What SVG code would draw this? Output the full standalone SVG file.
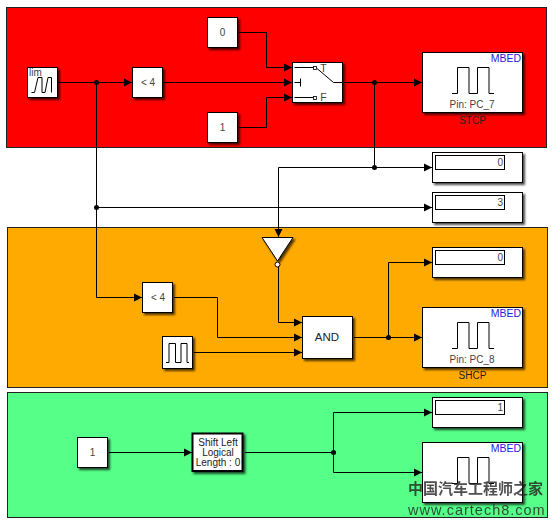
<svg xmlns="http://www.w3.org/2000/svg" width="554" height="526" viewBox="0 0 554 526">
<defs>
<filter id="sh" x="-20%" y="-20%" width="150%" height="150%"><feDropShadow dx="2" dy="2" stdDeviation="1.2" flood-color="#000" flood-opacity="0.7"/></filter>
<marker id="a" markerUnits="userSpaceOnUse" markerWidth="9" markerHeight="10" refX="8" refY="5" orient="auto"><path d="M0,1 L8,5 L0,9 Z" fill="#000"/></marker>
</defs>
<style>
.area{stroke:#222;stroke-width:1}
.b{fill:#fff;stroke:#000;stroke-width:1;filter:url(#sh)}
.w{fill:none;stroke:#000;stroke-width:1}
.ar{fill:none;stroke:#000;stroke-width:1;marker-end:url(#a)}
.i{fill:none;stroke:#000;stroke-width:1}
.d{fill:#000}
text{font-family:"Liberation Sans",Arial,sans-serif;font-size:10px;fill:#444;text-anchor:middle}
.dk{fill:#222}
.m{fill:#2222dd;font-size:10.5px;text-anchor:end}
.v{text-anchor:end}
.wm{fill:#222;opacity:.8;text-anchor:start}
</style>
<rect class="area" x="6.5" y="7.5" width="540" height="140" fill="#ff0000"/>
<rect class="area" x="7.5" y="227.5" width="540" height="160" fill="#ffaa00"/>
<rect class="area" x="7.5" y="392.5" width="540" height="125" fill="#55ff88"/>
<g id="connectors">
<path class="ar" d="M58.500,82.500H132"/>
<path class="ar" d="M163.500,82.500H292"/>
<path class="ar" d="M239,32.500H266.500V67.500H292"/>
<path class="ar" d="M239,127.500H266.500V97.500H292"/>
<path class="ar" d="M343.500,82.500H422"/>
<path class="w" d="M374.500,82.500V167.500"/>
<path class="ar" d="M278.500,167.500H432"/>
<path class="ar" d="M278.500,167.500V237"/>
<path class="ar" d="M96.500,207.500H432"/>
<path class="ar" d="M96.500,82.500V297.500H142"/>
<path class="ar" d="M278.500,267V322.500H302"/>
<path class="ar" d="M174,297.500H217.500V337.500H302"/>
<path class="ar" d="M194,352.500H302"/>
<path class="ar" d="M354,337.500H422"/>
<path class="ar" d="M388.500,337.500V262.500H432"/>
<path class="ar" d="M109,452.500H192"/>
<path class="ar" d="M245,452.500H333.500V412.500H432"/>
<path class="ar" d="M333.500,452.500V472.500H422"/>
<circle class="d" cx="96.500" cy="82.500" r="2.500"/>
<circle class="d" cx="374.500" cy="82.500" r="2.500"/>
<circle class="d" cx="374.500" cy="167.500" r="2.500"/>
<circle class="d" cx="96.500" cy="207.500" r="2.500"/>
<circle class="d" cx="388.500" cy="337.500" r="2.500"/>
<circle class="d" cx="333.500" cy="452.500" r="2.500"/>
</g>
<g id="lim"><rect class="b" x="27.500" y="67.500" width="30" height="30"/><text x="35.500" y="75.500">lim</text><path class="i" d="M31.500,92.500H34.500L38,77.500H42V92.500H45L48,77.500H51.500V92.500"/></g>
<g id="lt1"><rect class="b" x="132.500" y="67.500" width="30" height="30"/><text x="148" y="86">&lt; 4</text></g>
<g id="c0"><rect class="b" x="207.500" y="17.500" width="30" height="30"/><text x="222.500" y="35.500">0</text></g>
<g id="c1"><rect class="b" x="207.500" y="112.500" width="30" height="30"/><text x="222.500" y="130.500">1</text></g>
<g id="switch"><rect class="b" x="292.500" y="62.500" width="50" height="40"/>
<path class="i" d="M294.500,67.500H313.500M294.500,97.500H313.500M294.500,82.500H300.500M300.500,78.500V86.500M317,68.500L333.500,82.500H342"/>
<rect x="313.500" y="66.500" width="3" height="3" fill="#fff" stroke="#000" stroke-width=".8"/><rect x="313.500" y="96.500" width="3" height="3" fill="#fff" stroke="#000" stroke-width=".8"/>
<text x="323.500" y="72" style="font-size:10.5px">T</text><text x="323.500" y="101" style="font-size:10.5px">F</text></g>
<g id="stcp"><rect class="b" x="422.500" y="52.500" width="100" height="60"/><text class="m" x="521" y="62">MBED</text><path class="i" d="M452,93.500H457.500V67.500H469V93.500H477.500V67.500H489V93.500H494"/><text x="472" y="108">Pin: PC_7</text><text class="dk" x="472.500" y="124">STCP</text></g>
<g id="disp1"><rect class="b" x="432.500" y="152.500" width="90" height="30"/><rect x="435.500" y="155.500" width="69" height="14" fill="#fff" stroke="#000"/><text class="v" x="503" y="166">0</text></g>
<g id="disp2"><rect class="b" x="432.500" y="192.500" width="90" height="30"/><rect x="435.500" y="195.500" width="69" height="14" fill="#fff" stroke="#000"/><text class="v" x="503" y="206">3</text></g>
<g id="inverter"><path d="M262,237.500H293L277.500,261Z" fill="#fff" stroke="#000" stroke-width="1" filter="url(#sh)"/><circle cx="277.500" cy="264.500" r="2.500" fill="#fff" stroke="#000"/></g>
<g id="lt2"><rect class="b" x="142.500" y="282.500" width="30" height="30"/><text x="158" y="301">&lt; 4</text></g>
<g id="pulse"><rect class="b" x="162.500" y="336.500" width="30" height="32"/><path class="i" d="M166,362.500H169V343.500H175.500V362.500H181V343.500H187V362.500H189"/></g>
<g id="and"><rect class="b" x="302.500" y="316.500" width="50" height="42"/><text class="dk" x="327" y="341" style="font-size:11.500px">AND</text></g>
<g id="disp3"><rect class="b" x="432.500" y="247.500" width="90" height="30"/><rect x="435.500" y="250.500" width="69" height="14" fill="#fff" stroke="#000"/><text class="v" x="503" y="261">0</text></g>
<g id="shcp"><rect class="b" x="422.500" y="307.500" width="100" height="60"/><text class="m" x="521" y="317">MBED</text><path class="i" d="M452,348.500H457.500V322.500H469V348.500H477.500V322.500H489V348.500H494"/><text x="472" y="363">Pin: PC_8</text><text class="dk" x="472.500" y="379">SHCP</text></g>
<g id="c2"><rect class="b" x="77.500" y="437.500" width="30" height="30"/><text x="92.500" y="455.500">1</text></g>
<g id="shift"><rect x="192.500" y="433.500" width="50" height="37.500" fill="#fff" stroke="#000" stroke-width="2" filter="url(#sh)"/><text x="218" y="445.500" class="dk">Shift Left</text><text x="218" y="456" class="dk">Logical</text><text x="218" y="466" class="dk">Length : 0</text></g>
<g id="disp4"><rect class="b" x="432.500" y="397.500" width="90" height="30"/><rect x="435.500" y="400.500" width="69" height="14" fill="#fff" stroke="#000"/><text class="v" x="503" y="411">1</text></g>
<g id="mbed3"><rect class="b" x="422.500" y="442.500" width="100" height="60"/><text class="m" x="521" y="452">MBED</text><path class="i" d="M452,483.500H457.500V457.500H469V483.500H477.500V457.500H489V483.500H494"/></g>
<g id="watermark"><text class="wm" x="408" y="494" style="font-family:'Noto Sans CJK SC',sans-serif;font-size:15px;font-weight:bold">中国汽车工程师之家</text><text class="wm" x="408" y="515" style="font-size:14.500px;letter-spacing:1px">www.cartech8.com</text></g>
</svg>
